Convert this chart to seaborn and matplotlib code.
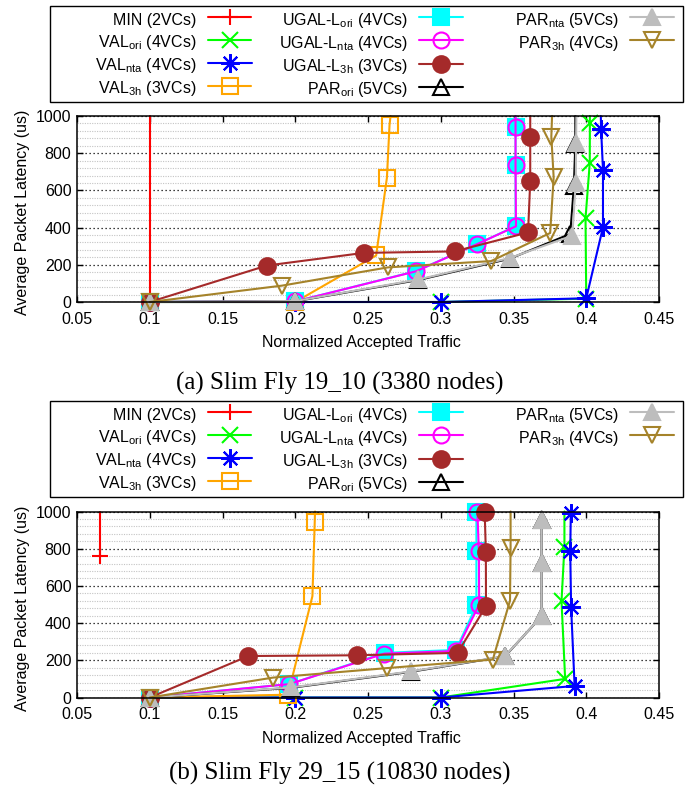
import matplotlib
matplotlib.use("Agg")
import matplotlib.pyplot as plt
import seaborn as sns
from matplotlib.lines import Line2D
from matplotlib.patches import Rectangle
from matplotlib.ticker import MultipleLocator

sns.set_theme(style="white")
plt.rcParams["font.family"] = ["Liberation Sans", "DejaVu Sans"]
plt.rcParams["mathtext.default"] = "regular"

# ---------------- data ----------------
series_labels = [
    "MIN (2VCs)", "VAL$_{ori}$ (4VCs)", "VAL$_{nta}$ (4VCs)", "VAL$_{3h}$ (3VCs)",
    "UGAL-L$_{ori}$ (4VCs)", "UGAL-L$_{nta}$ (4VCs)", "UGAL-L$_{3h}$ (3VCs)",
    "PAR$_{ori}$ (5VCs)", "PAR$_{nta}$ (5VCs)", "PAR$_{3h}$ (4VCs)",
]
x_ticks = [0.05, 0.1, 0.15, 0.2, 0.25, 0.3, 0.35, 0.4, 0.45]
x_tick_labels = ["0.05", "0.1", "0.15", "0.2", "0.25", "0.3", "0.35", "0.4", "0.45"]
y_ticks = [0, 200, 400, 600, 800, 1000]
captions = ["(a) Slim Fly 19_10 (3380 nodes)", "(b) Slim Fly 29_15 (10830 nodes)"]

# (a) Slim Fly 19_10  -- last point of each curve is where it leaves the plot (no marker)
a_min_x = [0.1, 0.1]
a_min_y = [2, 1000]
a_val_ori_x = [0.1, 0.2, 0.3, 0.4, 0.3995, 0.4024, 0.4025, 0.4025]
a_val_ori_y = [0, 0, 0, 18, 450, 746, 962, 1000]
a_val_nta_x = [0.1, 0.2, 0.3, 0.4, 0.4115, 0.4115, 0.4102, 0.41]
a_val_nta_y = [0, 0, 0, 20, 402, 710, 930, 1000]
a_val_3h_x = [0.1, 0.2, 0.2556, 0.263, 0.2648, 0.2655]
a_val_3h_y = [0, 0, 250, 668, 952, 1000]
a_ugal_ori_x = [0.1, 0.2, 0.283, 0.325, 0.3514, 0.3514, 0.3514, 0.3514]
a_ugal_ori_y = [0, 3, 166, 312, 407, 738, 943, 1000]
a_ugal_nta_x = [0.1, 0.2, 0.283, 0.3252, 0.3517, 0.3514, 0.3514, 0.3514]
a_ugal_nta_y = [0, 3, 165, 312, 407, 737, 943, 1000]
a_ugal_3h_x = [0.1, 0.1805, 0.247, 0.3095, 0.36, 0.3615, 0.3615, 0.3615]
a_ugal_3h_y = [0, 196, 264, 272, 374, 648, 889, 1000]
a_par_ori_x = [0.1, 0.2, 0.2845, 0.3475, 0.389, 0.3915, 0.3925, 0.3925]
a_par_ori_y = [0, 4, 118, 233, 366, 622, 852, 1000]
a_par_nta_x = [0.1, 0.2, 0.2847, 0.3478, 0.3904, 0.3928, 0.393, 0.3932]
a_par_nta_y = [0, 5, 121, 237, 357, 639, 853, 1000]
a_par_3h_x = [0.1, 0.1909, 0.2636, 0.3346, 0.3752, 0.3776, 0.376, 0.3765]
a_par_3h_y = [0, 88, 186, 220, 371, 670, 889, 1000]

# (b) Slim Fly 29_15
b_min_x = [0.0655, 0.0655]
b_min_y = [760, 1000]
b_val_ori_x = [0.1, 0.2, 0.3, 0.3855, 0.383, 0.385, 0.385]
b_val_ori_y = [0, 0, 0, 100, 518, 810, 1000]
b_val_nta_x = [0.1, 0.2, 0.3, 0.392, 0.3896, 0.389, 0.3894, 0.3894]
b_val_nta_y = [0, 0, 0, 62, 485, 786, 992, 1000]
b_val_3h_x = [0.1, 0.195, 0.2118, 0.2134, 0.2136]
b_val_3h_y = [0, 15, 545, 946, 1000]
b_ugal_ori_x = [0.1, 0.196, 0.2615, 0.3105, 0.3245, 0.3245, 0.3245, 0.3245]
b_ugal_ori_y = [0, 72, 240, 256, 495, 785, 995, 1000]
b_ugal_nta_x = [0.1, 0.196, 0.2613, 0.3106, 0.3264, 0.3262, 0.3252, 0.3252]
b_ugal_nta_y = [0, 72, 236, 250, 500, 786, 997, 1000]
b_ugal_3h_x = [0.1, 0.1678, 0.2424, 0.3116, 0.3311, 0.331, 0.3302, 0.3302]
b_ugal_3h_y = [0, 223, 227, 240, 491, 782, 997, 1000]
b_par_ori_x = [0.1, 0.1972, 0.2793, 0.3441, 0.3693, 0.3693, 0.3693, 0.3693]
b_par_ori_y = [0, 52, 138, 221, 437, 723, 953, 1000]
b_par_nta_x = [0.1, 0.1972, 0.2793, 0.3441, 0.3693, 0.3693, 0.3693, 0.3693]
b_par_nta_y = [0, 54, 140, 222, 437, 723, 953, 1000]
b_par_3h_x = [0.1, 0.1847, 0.2629, 0.3358, 0.3476, 0.348, 0.348]
b_par_3h_y = [0, 107, 158, 204, 521, 804, 1000]

panel_a = [(a_min_x, a_min_y), (a_val_ori_x, a_val_ori_y), (a_val_nta_x, a_val_nta_y),
           (a_val_3h_x, a_val_3h_y), (a_ugal_ori_x, a_ugal_ori_y), (a_ugal_nta_x, a_ugal_nta_y),
           (a_ugal_3h_x, a_ugal_3h_y), (a_par_ori_x, a_par_ori_y), (a_par_nta_x, a_par_nta_y),
           (a_par_3h_x, a_par_3h_y)]
panel_b = [(b_min_x, b_min_y), (b_val_ori_x, b_val_ori_y), (b_val_nta_x, b_val_nta_y),
           (b_val_3h_x, b_val_3h_y), (b_ugal_ori_x, b_ugal_ori_y), (b_ugal_nta_x, b_ugal_nta_y),
           (b_ugal_3h_x, b_ugal_3h_y), (b_par_ori_x, b_par_ori_y), (b_par_nta_x, b_par_nta_y),
           (b_par_3h_x, b_par_3h_y)]

# ---------------- styles ----------------
STYLES = [
    dict(color="#FF0000", marker="+", mfc="#FF0000", ms=12),
    dict(color="#00FF00", marker="x", mfc="#00FF00", ms=11),
    dict(color="#0000FF", marker=(8, 2, 0), mfc="#0000FF", ms=13.5),
    dict(color="#FFA500", marker="s", mfc="none", ms=11.5),
    dict(color="#00FFFF", marker="s", mfc="#00FFFF", ms=11.5),
    dict(color="#FF00FF", marker="o", mfc="none", ms=11.5),
    dict(color="#A52A2A", marker="o", mfc="#A52A2A", ms=12),
    dict(color="#000000", marker="^", mfc="none", ms=11.5),
    dict(color="#BDBDBD", marker="^", mfc="#BDBDBD", ms=11.5),
    dict(color="#A5832A", marker="v", mfc="none", ms=11.5),
]
LW = 1.5
MEW = 1.5
FS = 11.5

W, H = 686, 796
fig = plt.figure(figsize=(W / 100, H / 100), dpi=100)
fig.patch.set_facecolor("white")


def fx(px):
    return px / W


def fy(py):
    return 1 - py / H


def draw_panel(ax, data):
    for (xs, ys), st in zip(data, STYLES):
        sns.lineplot(x=xs, y=ys, ax=ax, sort=False, estimator=None, errorbar=None,
                     legend=False, color=st["color"], lw=LW, marker=st["marker"],
                     markersize=st["ms"], markerfacecolor=st["mfc"],
                     markeredgecolor=st["color"], markeredgewidth=MEW,
                     markevery=list(range(len(xs) - 1)), clip_on=False)
    ax.set_xlim(0.05, 0.45)
    ax.set_ylim(0, 1000)
    ax.set_xticks(x_ticks)
    ax.set_xticklabels(x_tick_labels)
    ax.set_yticks(y_ticks)
    ax.set_yticklabels([str(v) for v in y_ticks])
    ax.yaxis.set_minor_locator(MultipleLocator(40))
    ax.grid(False)
    ax.grid(which="major", axis="y", color="black", linestyle=(0, (1, 2.2)), lw=0.9, zorder=0)
    ax.grid(which="minor", axis="y", color="#c4c4c4", linestyle=(0, (1, 1.2)), lw=0.8, zorder=0)
    ax.set_axisbelow(True)
    ax.tick_params(which="major", direction="in", length=4, width=1, color="black",
                   top=True, right=True, bottom=True, left=True, labelsize=FS,
                   labelcolor="black")
    ax.tick_params(axis="x", pad=7)
    ax.tick_params(axis="y", pad=4)
    ax.tick_params(which="minor", length=0)
    for sp in ax.spines.values():
        sp.set_color("black")
        sp.set_linewidth(1.1)
        sp.set_zorder(5)
    ax.set_facecolor("white")
    ax.set_xlabel("Normalized Accepted Traffic", fontsize=FS, color="black", va="center")
    ax.set_ylabel("Average Packet Latency (us)", fontsize=FS, color="black", va="center")
    ax.xaxis.set_label_coords(0.489, -0.219)
    ax.yaxis.set_label_coords(-0.0945, 0.481)


def handles_for(idx):
    hs = []
    for i in idx:
        st = STYLES[i]
        hs.append(Line2D([], [], color=st["color"], lw=LW, marker=st["marker"],
                         markersize=st["ms"], markerfacecolor=st["mfc"],
                         markeredgecolor=st["color"], markeredgewidth=MEW))
    return hs


def draw_legend(offset):
    fig.patches.append(Rectangle((fx(50), fy(102 + offset)), fx(683) - fx(50),
                                 fy(5.5 + offset) - fy(102 + offset), transform=fig.transFigure,
                                 facecolor="white", edgecolor="black", lw=1.0, zorder=1))
    cols = [([0, 1, 2, 3], 251.5), ([4, 5, 6, 7], 463), ([8, 9], 674)]
    for idx, xr in cols:
        leg = fig.legend(handles_for(idx), [series_labels[i] for i in idx],
                         loc="upper right", bbox_to_anchor=(fx(xr), fy(9.8 + offset)),
                         bbox_transform=fig.transFigure, frameon=False, markerfirst=False,
                         fontsize=FS, borderpad=0, borderaxespad=0, handlelength=2.75,
                         handletextpad=0.7, handleheight=1.46, labelspacing=0.21,
                         numpoints=1)
        for t in leg.get_texts():
            t.set_color("black")
        leg.set_zorder(3)


ax_a = fig.add_axes([fx(77), fy(302), fx(659) - fx(77), fy(116) - fy(302)])
ax_b = fig.add_axes([fx(77), fy(697.5), fx(659) - fx(77), fy(511.5) - fy(697.5)])
draw_panel(ax_a, panel_a)
draw_panel(ax_b, panel_b)
draw_legend(0)
draw_legend(395)

fig.text(0.495, fy(383), captions[0], family=["Liberation Serif", "DejaVu Serif"],
         fontsize=18, ha="center", va="center", color="black")
fig.text(0.495, fy(773), captions[1], family=["Liberation Serif", "DejaVu Serif"],
         fontsize=18, ha="center", va="center", color="black")

fig.savefig("out.png", dpi=100, facecolor="white")
